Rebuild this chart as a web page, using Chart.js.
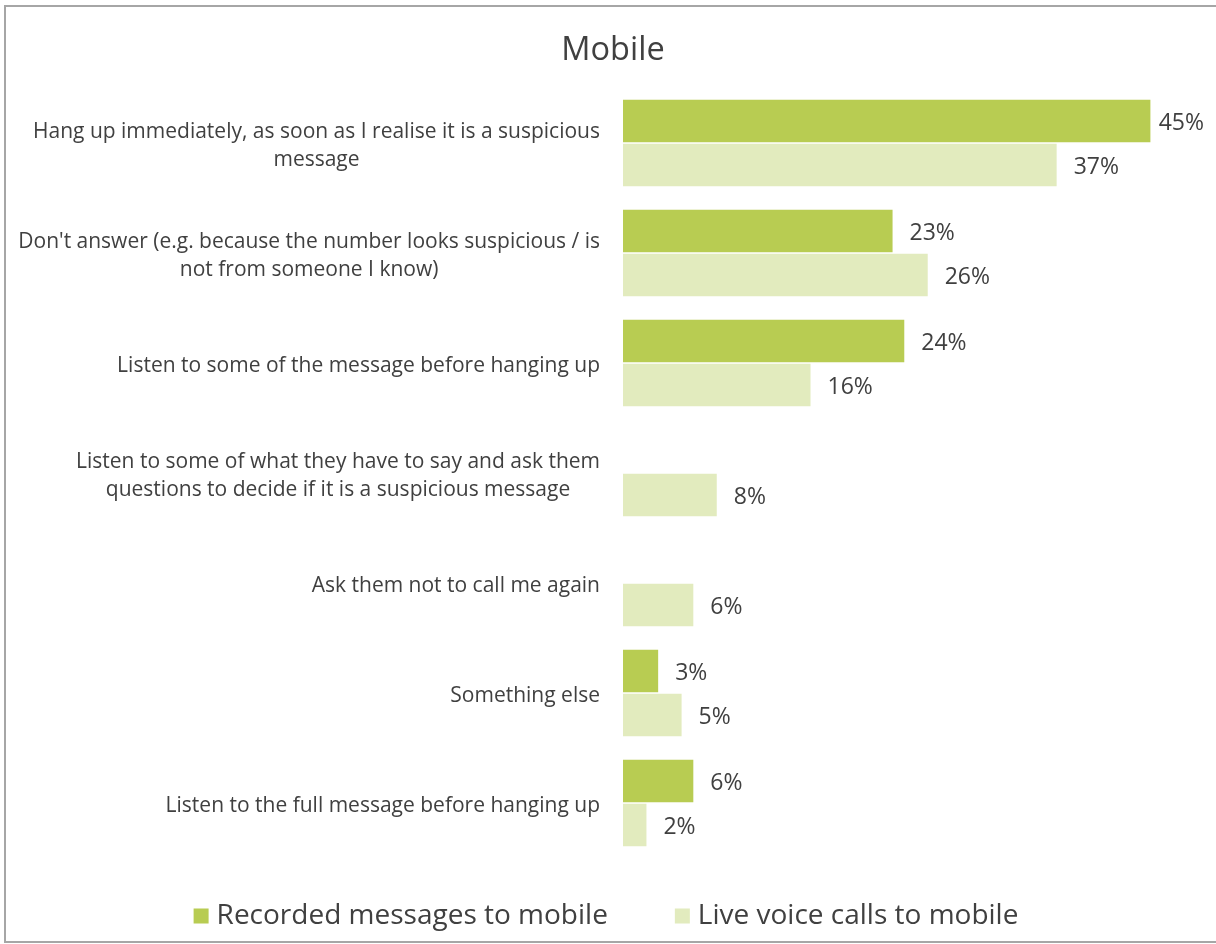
<!DOCTYPE html>
<html>
<head>
<meta charset="utf-8">
<script src="https://cdn.jsdelivr.net/npm/chart.js@4"></script>
<style>
  html, body { margin: 0; padding: 0; background: #fff; }
  #wrap { position: relative; width: 1216px; height: 944px; }
</style>
</head>
<body>
<div id="wrap"><canvas id="grafico" width="1216" height="944"></canvas></div>
<script>
const categorias = [
  ["Hang up immediately, as soon as I realise it is a suspicious", "message"],
  ["Don't answer (e.g. because the number looks suspicious / is", "not from someone I know)"],
  ["Listen to some of the message before hanging up"],
  ["Listen to some of what they have to say and ask them", "questions to decide if it is a suspicious message"],
  ["Ask them not to call me again"],
  ["Something else"],
  ["Listen to the full message before hanging up"]
];
const grabados = [45, 23, 24, null, null, 3, 6];
const enVivo = [37, 26, 16, 8, 6, 5, 2];
const series = ["Recorded messages to mobile", "Live voice calls to mobile"];
const colores = ["#b8cc52", "#e2ebbe"];

const fuente = "'Open Sans', sans-serif";
const gris = "#404040";

// marco gris alrededor del gráfico
const marco = {
  id: "marco",
  afterDraw(chart) {
    const ctx = chart.ctx;
    ctx.save();
    ctx.strokeStyle = "#a6a6a6";
    ctx.lineWidth = 2;
    ctx.strokeRect(5, 6, 1230, 936);
    ctx.restore();
  }
};

// etiquetas de categoría: bloque alineado a la derecha, líneas centradas entre sí
const etiquetasY = {
  id: "etiquetasY",
  afterDraw(chart) {
    const ctx = chart.ctx;
    const y = chart.scales.y;
    ctx.save();
    ctx.font = "21px " + fuente;
    ctx.fillStyle = gris;
    ctx.textBaseline = "middle";
    ctx.textAlign = "center";
    categorias.forEach((lineas, i) => {
      const ancho = Math.max(...lineas.map(l => ctx.measureText(l).width));
      const cx = 600 - ancho / 2;
      const cy = y.getPixelForValue(i) + 3;
      lineas.forEach((l, j) => {
        ctx.fillText(l, cx, cy + (j - (lineas.length - 1) / 2) * 28);
      });
    });
    ctx.restore();
  }
};

// porcentajes al final de cada barra
const valores = {
  id: "valores",
  afterDatasetsDraw(chart) {
    const ctx = chart.ctx;
    ctx.save();
    ctx.font = "23px " + fuente;
    ctx.fillStyle = gris;
    ctx.textBaseline = "middle";
    ctx.textAlign = "left";
    chart.data.datasets.forEach((ds, d) => {
      chart.getDatasetMeta(d).data.forEach((bar, i) => {
        if (ds.data[i] == null) return;
        const txt = ds.data[i] + "%";
        const w = ctx.measureText(txt).width;
        const x = Math.min(bar.x + 17, 1204 - w);
        ctx.fillText(txt, x, bar.y + 2);
      });
    });
    ctx.restore();
  }
};

// leyenda abajo, centrada en todo el ancho
const leyenda = {
  id: "leyenda",
  afterDraw(chart) {
    const ctx = chart.ctx;
    ctx.save();
    ctx.font = "28px " + fuente;
    ctx.textBaseline = "middle";
    ctx.textAlign = "left";
    const caja = 15, hueco = 8, sep = 67;
    const items = chart.data.datasets.map(ds => ({
      texto: ds.label, color: ds.backgroundColor, ancho: ctx.measureText(ds.label).width
    }));
    const total = items.reduce((s, it) => s + caja + hueco + it.ancho, 0) + sep * (items.length - 1);
    let x = 606 - total / 2;
    const yc = 916;
    items.forEach(it => {
      ctx.fillStyle = it.color;
      ctx.fillRect(x, yc - caja / 2, caja, caja);
      ctx.fillStyle = gris;
      ctx.fillText(it.texto, x + caja + hueco, yc);
      x += caja + hueco + it.ancho + sep;
    });
    ctx.restore();
  }
};

new Chart("grafico", {
  type: "bar",
  data: {
    labels: categorias,
    datasets: [{
      label: series[0],
      data: grabados,
      backgroundColor: colores[0],
      barPercentage: 0.97,
      categoryPercentage: 0.8
    }, {
      label: series[1],
      data: enVivo,
      backgroundColor: colores[1],
      barPercentage: 0.97,
      categoryPercentage: 0.8
    }]
  },
  options: {
    indexAxis: "y",
    responsive: false,
    animation: false,
    layout: { padding: { left: 17, right: 7, top: 0, bottom: 86 } },
    scales: {
      x: { display: false, min: 0, max: 50 },
      y: {
        display: true,
        ticks: { display: false },
        grid: { display: false },
        border: { display: false },
        afterFit(scale) { scale.width = 606; }
      }
    },
    plugins: {
      title: {
        display: true,
        text: "Mobile",
        color: gris,
        font: { family: fuente, size: 32.5, weight: "normal" },
        padding: { top: 31, bottom: 18 }
      },
      legend: { display: false },
      tooltip: { enabled: false }
    }
  },
  plugins: [marco, etiquetasY, valores, leyenda]
});
</script>
</body>
</html>
